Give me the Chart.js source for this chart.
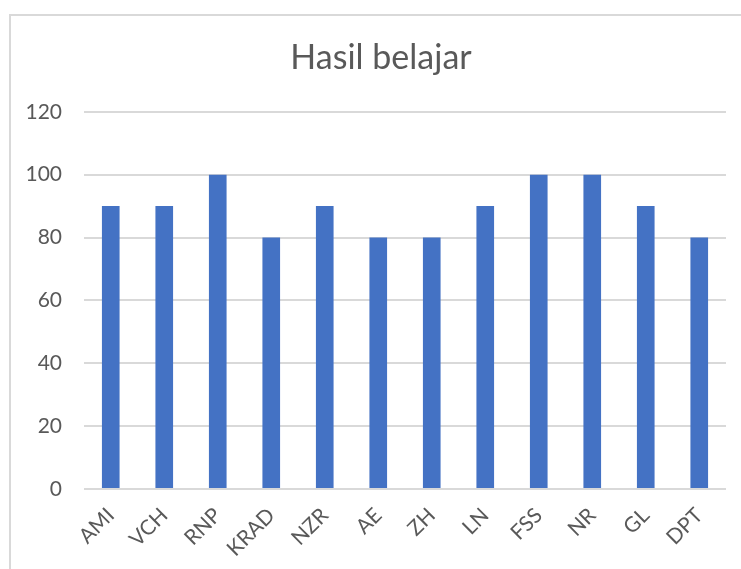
<!DOCTYPE html>
<html>
<head>
<meta charset="utf-8">
<script src="https://cdn.jsdelivr.net/npm/chart.js@4.4.1/dist/chart.umd.min.js"></script>
<style>
  html, body { margin: 0; padding: 0; background: #fff; }
  body { width: 741px; height: 569px; position: relative; overflow: hidden; }
  #kotak {
    position: absolute; left: 9px; top: 14px; width: 800px; height: 600px;
    border: 2px solid #d9d9d9; box-sizing: border-box;
  }
  #wrap { position: absolute; left: 0; top: 0; width: 741px; height: 569px; }
</style>
</head>
<body>
<div id="kotak"></div>
<div id="wrap"><canvas id="chartHasil"></canvas></div>
<script>
/* data nilai siswa */
const namaSiswa = ["AMI", "VCH", "RNP", "KRAD", "NZR", "AE", "ZH", "LN", "FSS", "NR", "GL", "DPT"];
const nilaiSiswa = [90, 90, 100, 80, 90, 80, 80, 90, 100, 100, 90, 80];
const judul = "Hasil belajar";
const sumbuMax = 120;
const sumbuStep = 20;

const abu = "#595959";
const fontUtama = "Lato, Carlito, Calibri, sans-serif";

const canvas = document.getElementById("chartHasil");
const context = canvas.getContext("2d");

// judul digeser sedikit ke kanan, karena kotak grafik aslinya lebih lebar dari layar
const geserJudul = {
  id: "geserJudul",
  afterLayout: (chart) => {
    if (chart.titleBlock) {
      chart.titleBlock.left += 18;
      chart.titleBlock.right += 18;
    }
  },
};

const chartHasil = new Chart(context, {
  type: "bar",
  data: {
    labels: namaSiswa,
    datasets: [
      {
        label: judul,
        data: nilaiSiswa,
        backgroundColor: "#4472C4",
        barPercentage: 1,
        categoryPercentage: 0.33,
      },
    ],
  },
  options: {
    responsive: true,
    maintainAspectRatio: false,
    animation: false,
    layout: { padding: { left: 0, right: 15, top: 0, bottom: 0 } },
    plugins: {
      legend: { display: false },
      tooltip: { enabled: false },
      title: {
        display: true,
        text: judul,
        color: abu,
        font: { family: fontUtama, size: 34, weight: "normal" },
        padding: { top: 38, bottom: 33 },
      },
    },
    scales: {
      x: {
        grid: { display: false, drawTicks: false },
        border: { display: false },
        ticks: {
          color: abu,
          font: { family: fontUtama, size: 21 },
          maxRotation: 45,
          minRotation: 45,
          padding: 14,
        },
        afterFit: (scale) => { scale.height = 80; },
      },
      y: {
        min: 0,
        max: sumbuMax,
        grid: { color: "#d9d9d9", lineWidth: 2, drawTicks: false },
        border: { display: false },
        ticks: {
          stepSize: sumbuStep,
          color: abu,
          font: { family: fontUtama, size: 21 },
          padding: 22,
        },
        afterFit: (scale) => { scale.width = 84; },
      },
    },
  },
  plugins: [geserJudul],
});
</script>
</body>
</html>
